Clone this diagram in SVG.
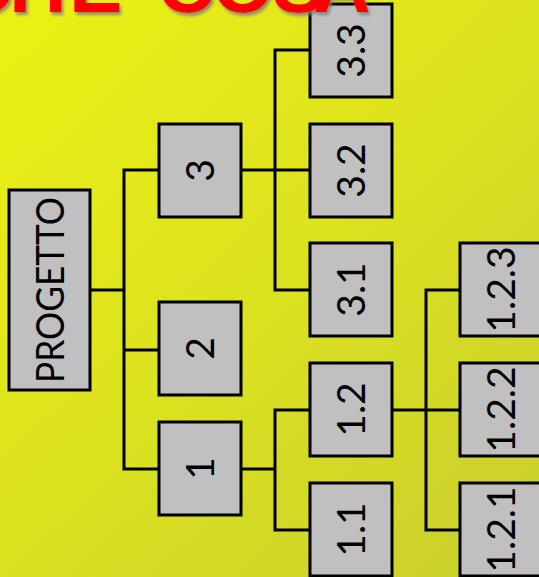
<svg xmlns="http://www.w3.org/2000/svg" width="539" height="577" viewBox="0 0 539 577">
  <defs>
    <linearGradient id="bg" x1="0" y1="0" x2="539" y2="577" gradientUnits="userSpaceOnUse">
      <stop offset="0" stop-color="#ecf114"/>
      <stop offset="0.5" stop-color="#dbe21f"/>
      <stop offset="1" stop-color="#c8ce2e"/>
    </linearGradient>
    <filter id="shadow" x="-10%" y="-10%" width="130%" height="150%">
      <feDropShadow dx="2" dy="3" stdDeviation="1.5" flood-color="#7a7a7a" flood-opacity="0.8"/>
    </filter>
  </defs>
  <style>
    .box { fill: #c0c0c0; stroke: #000; stroke-width: 3; }
    .lbl { font-family: Lato, "Open Sans", "Liberation Sans", sans-serif; font-size: 39px; fill: #000; text-anchor: middle; }
    .con { fill: none; stroke: #000; stroke-width: 3; stroke-linecap: square; }
    .title { font-family: "Liberation Sans", Arial, sans-serif; font-weight: bold; font-size: 80px; fill: #ff0000; }
  </style>
  <rect x="0" y="0" width="539" height="577" fill="url(#bg)"/>

  <g id="connectors">
    <path class="con" d="M90 290 H124 M124 170 V469 M124 170 H159 M124 350 H159 M124 469 H159"/>
    <path class="con" d="M241 170 H310 M275 50 V290 M275 50 H310 M275 290 H310"/>
    <path class="con" d="M241 469 H275 M275 410 V530 M275 410 H310 M275 530 H310"/>
    <path class="con" d="M392 410 H460 M426 290 V530 M426 290 H460 M426 530 H460"/>
  </g>

  <g id="progetto">
    <rect class="box" x="9" y="190" width="81" height="200"/>
    <text class="lbl" transform="translate(49.5 290) rotate(-90)" x="0" y="14" textLength="186" lengthAdjust="spacingAndGlyphs">PROGETTO</text>
  </g>
  <g id="n3">
    <rect class="box" x="159" y="124" width="82" height="93"/>
    <text class="lbl" transform="translate(200 170.5) rotate(-90)" x="0" y="14">3</text>
  </g>
  <g id="n2">
    <rect class="box" x="159" y="302" width="82" height="93"/>
    <text class="lbl" transform="translate(200 348.5) rotate(-90)" x="0" y="14">2</text>
  </g>
  <g id="n1">
    <rect class="box" x="159" y="422" width="82" height="93"/>
    <text class="lbl" transform="translate(200 468.5) rotate(-90)" x="0" y="14">1</text>
  </g>
  <g id="n3_3">
    <rect class="box" x="310" y="4" width="82" height="93"/>
    <text class="lbl" transform="translate(351 50.5) rotate(-90)" x="0" y="14">3.3</text>
  </g>
  <g id="n3_2">
    <rect class="box" x="310" y="124" width="82" height="93"/>
    <text class="lbl" transform="translate(351 170.5) rotate(-90)" x="0" y="14">3.2</text>
  </g>
  <g id="n3_1">
    <rect class="box" x="310" y="243" width="82" height="93"/>
    <text class="lbl" transform="translate(351 289.5) rotate(-90)" x="0" y="14">3.1</text>
  </g>
  <g id="n1_2">
    <rect class="box" x="310" y="363" width="82" height="93"/>
    <text class="lbl" transform="translate(351 409.5) rotate(-90)" x="0" y="14">1.2</text>
  </g>
  <g id="n1_1">
    <rect class="box" x="310" y="483" width="82" height="93"/>
    <text class="lbl" transform="translate(351 529.5) rotate(-90)" x="0" y="14">1.1</text>
  </g>
  <g id="n1_2_3">
    <rect class="box" x="460" y="243" width="82" height="93"/>
    <text class="lbl" transform="translate(501 289.5) rotate(-90)" x="0" y="14">1.2.3</text>
  </g>
  <g id="n1_2_2">
    <rect class="box" x="460" y="363" width="82" height="93"/>
    <text class="lbl" transform="translate(501 409.5) rotate(-90)" x="0" y="14">1.2.2</text>
  </g>
  <g id="n1_2_1">
    <rect class="box" x="460" y="483" width="82" height="93"/>
    <text class="lbl" transform="translate(501 529.5) rotate(-90)" x="0" y="14">1.2.1</text>
  </g>

  <g id="title" filter="url(#shadow)">
    <text class="title" x="-45 9 69 130 157 212 272 313" y="12">CHE COSA</text>
  </g>
</svg>
